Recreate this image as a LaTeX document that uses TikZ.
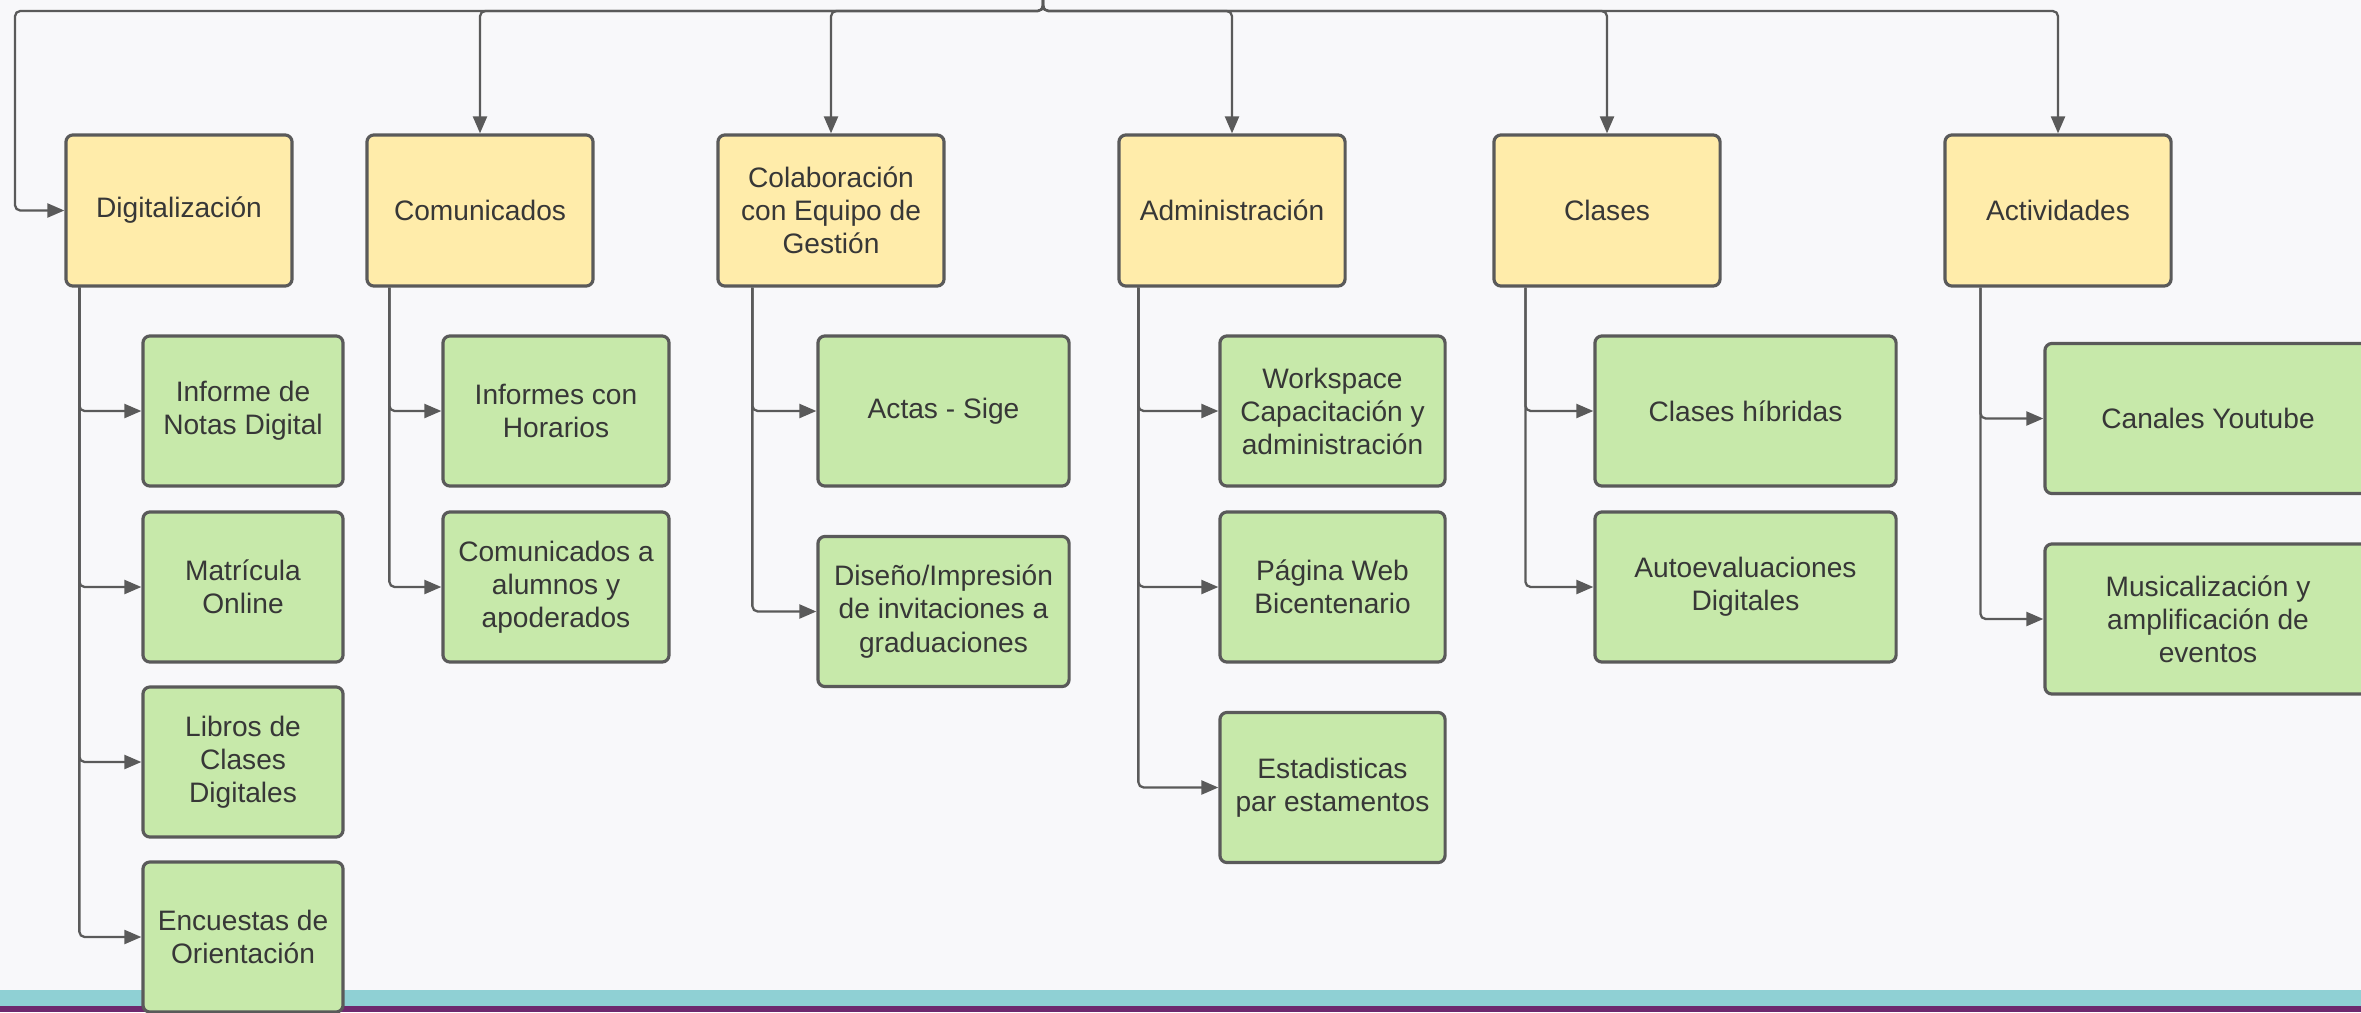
\documentclass[tikz,border=0pt]{standalone}
\usepackage{fontspec}
\setmainfont{Liberation Sans}
\usetikzlibrary{arrows.meta}
\definecolor{catfill}{RGB}{255,236,170}
\definecolor{itemfill}{RGB}{199,233,170}
\definecolor{edge}{RGB}{90,90,90}
\definecolor{ink}{RGB}{55,55,55}
\definecolor{paper}{RGB}{248,248,250}
\definecolor{bandteal}{RGB}{143,208,212}
\definecolor{bandpurple}{RGB}{110,40,110}
\tikzset{
  box/.style={draw=edge, line width=0.9pt, rounded corners=2pt, text=ink,
    align=center, font=\fontsize{8}{9.4}\selectfont, inner sep=0pt},
  cat/.style={box, fill=catfill, minimum height=1.51cm},
  item/.style={box, fill=itemfill, minimum height=1.5cm},
  arr/.style={draw=edge, line width=0.65pt, rounded corners=1.5pt,
    -{Triangle[length=0.17cm,width=0.14cm]}}
}

\begin{document}
\begin{tikzpicture}[x=0.01cm, y=-0.01cm]
		%%%%% START %%%%%
		\useasboundingbox (0,0) rectangle (2361,1012);
		\fill[paper] (0,0) rectangle (2361,1012);
		\fill[bandteal] (0,990) rectangle (2361,1006);
		\fill[bandpurple] (0,1006) rectangle (2361,1012);
		
		% main areas
		\node[cat, minimum width=2.26cm] (dig) at (179,210.5) {Digitalización};
		\node[cat, minimum width=2.26cm] (com) at (480,210.5) {Comunicados};
		\node[cat, minimum width=2.26cm] (col) at (831,210.5) {Colaboración\\con Equipo de\\Gestión};
		\node[cat, minimum width=2.26cm] (adm) at (1232,210.5) {Administración};
		\node[cat, minimum width=2.26cm] (cla) at (1607,210.5) {Clases};
		\node[cat, minimum width=2.26cm] (act) at (2058,210.5) {Actividades};
		
		% Digitalizacion
		\node[item, minimum width=2cm] (dig1) at (243,411) {Informe de\\Notas Digital};
		\node[item, minimum width=2cm] (dig2) at (243,587) {Matrícula\\Online};
		\node[item, minimum width=2cm] (dig3) at (243,762) {Libros de\\Clases\\Digitales};
		\node[item, minimum width=2cm] (dig4) at (243,937) {Encuestas de\\Orientación};
		
		% Comunicados
		\node[item, minimum width=2.26cm] (com1) at (556,411) {Informes con\\Horarios};
		\node[item, minimum width=2.26cm] (com2) at (556,587) {Comunicados a\\alumnos y\\apoderados};
		
		% Colaboracion
		\node[item, minimum width=2.51cm] (col1) at (943.5,411) {Actas - Sige};
		\node[item, minimum width=2.51cm] (col2) at (943.5,611.5) {Diseño/Impresión\\de invitaciones a\\graduaciones};
		
		% Administracion
		\node[item, minimum width=2.25cm] (adm1) at (1332.5,411) {Workspace\\Capacitación y\\administración};
		\node[item, minimum width=2.25cm] (adm2) at (1332.5,587) {Página Web\\Bicentenario};
		\node[item, minimum width=2.25cm] (adm3) at (1332.5,787.5) {Estadisticas\\par estamentos};
		
		% Clases
		\node[item, minimum width=3.01cm] (cla1) at (1745.5,411) {Clases híbridas};
		\node[item, minimum width=3.01cm] (cla2) at (1745.5,587) {Autoevaluaciones\\Digitales};
		
		% Actividades
		\node[item, minimum width=3.26cm] (act1) at (2208,418.5) {Canales Youtube};
		\node[item, minimum width=3.26cm] (act2) at (2208,619) {Musicalización y\\amplificación de\\eventos};
		
		% top bus
		\coordinate (root) at (1043,0);
		\coordinate (busL) at (15,11);
		\draw[arr] (root) |- (busL) |- (dig);
		\foreach \n in {com,col,adm,cla,act}
		  \draw[arr] (root) -- (root |- busL) -| (\n);
		
		% branches
		\foreach \n in {dig1,dig2,dig3,dig4}
		  \draw[arr] ([xshift=0.15cm]dig.south west) |- (\n);
		\foreach \n in {com1,com2}
		  \draw[arr] ([xshift=0.24cm]com.south west) |- (\n);
		\foreach \n in {col1,col2}
		  \draw[arr] ([xshift=0.36cm]col.south west) |- (\n);
		\foreach \n in {adm1,adm2,adm3}
		  \draw[arr] ([xshift=0.21cm]adm.south west) |- (\n);
		\foreach \n in {cla1,cla2}
		  \draw[arr] ([xshift=0.33cm]cla.south west) |- (\n);
		\foreach \n in {act1,act2}
		  \draw[arr] ([xshift=0.37cm]act.south west) |- (\n);
		%%%%% END %%%%%
	\end{tikzpicture}
\end{document}
